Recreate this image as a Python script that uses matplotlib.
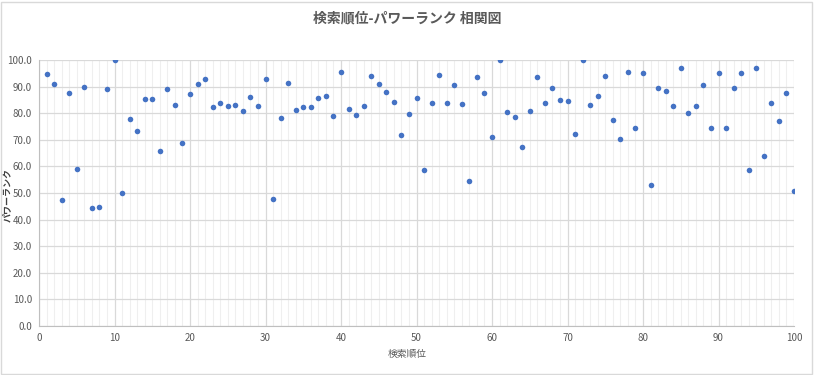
import matplotlib
matplotlib.use("Agg")
import matplotlib.pyplot as plt
from matplotlib.patches import Rectangle
import numpy as np

plt.rcParams['font.family'] = ['Noto Sans CJK JP', 'DejaVu Sans']

# search rank (x) vs power rank (y)
rank = list(range(1, 101))
power = [
    94.6, 90.9, 47.2, 87.5, 58.9, 89.7, 44.2, 44.6, 89.0, 100.0,
    49.9, 77.7, 73.2, 85.2, 85.2, 65.7, 89.0, 83.0, 68.7, 87.1,
    90.9, 92.7, 82.2, 83.7, 82.6, 83.0, 80.7, 86.0, 82.6, 92.7,
    47.6, 78.1, 91.2, 81.1, 82.2, 82.2, 85.6, 86.3, 78.8, 95.4,
    81.5, 79.2, 82.6, 93.9, 90.9, 87.8, 84.1, 71.7, 79.6, 85.6,
    58.5, 83.7, 94.2, 83.7, 90.5, 83.3, 54.4, 93.5, 87.5, 70.9,
    100.0, 80.3, 78.4, 67.2, 80.7, 93.5, 83.7, 89.3, 84.8, 84.5,
    72.1, 100.0, 83.0, 86.3, 93.9, 77.3, 70.2, 95.4, 74.3, 95.0,
    52.9, 89.3, 88.2, 82.6, 96.9, 80.0, 82.6, 90.5, 74.3, 95.0,
    74.3, 89.3, 95.0, 58.5, 96.9, 63.8, 83.7, 76.9, 87.5, 50.6,
]

title = '検索順位-パワーランク 相関図'
xlabel = '検索順位'
ylabel = 'パワーランク'

W, H = 814, 375
fig = plt.figure(figsize=(W / 100, H / 100), dpi=100)
fig.patch.set_facecolor('white')
fig.patches.append(Rectangle((1 / W, 1 / H), 1 - 3 / W, 1 - 3 / H, transform=fig.transFigure,
                             fill=False, edgecolor='#d9d9d9', linewidth=1))

left, right, top, bottom = 39, 794, 60, 326
ax = fig.add_axes([left / W, 1 - bottom / H, (right - left) / W, (bottom - top) / H])

ax.set_xlim(0, 100)
ax.set_ylim(0, 100)
ax.set_xticks(np.arange(0, 101, 10))
ax.set_xticks(np.arange(0, 101, 1), minor=True)
ax.set_yticks(np.arange(0, 101, 10))
ax.set_yticklabels([f'{v:.1f}' for v in np.arange(0, 101, 10)])

ax.grid(which='minor', axis='x', color='#efefef', linewidth=0.8)
ax.grid(which='major', color='#d9d9d9', linewidth=0.9)
ax.set_axisbelow(True)

for side in ['top', 'right']:
    ax.spines[side].set_visible(False)
for side in ['left', 'bottom']:
    ax.spines[side].set_color('#bfbfbf')

ax.tick_params(which='both', length=0, labelsize=7, labelcolor='#595959', pad=5)

ax.scatter(rank, power, s=16, color='#4472c4', zorder=3, linewidths=0)

fig.text(0.5, 1 - 18 / H, title, ha='center', va='center', fontsize=10,
         fontweight='bold', color='#595959')
fig.text(407 / W, 1 - 354 / H, xlabel, ha='center', va='center', fontsize=7, color='#595959')
fig.text(7 / W, 1 - 195 / H, ylabel, ha='center', va='center', rotation=90,
         fontsize=6.5, fontweight='bold', color='#404040')

fig.savefig('out.png', dpi=100, facecolor='white')
